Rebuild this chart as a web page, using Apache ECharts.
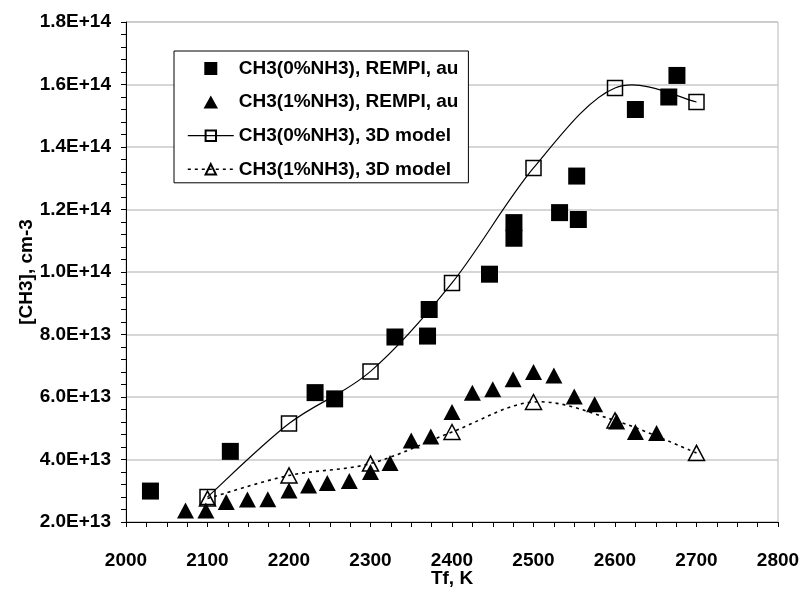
<!DOCTYPE html>
<html>
<head>
<meta charset="utf-8">
<script src="https://cdn.jsdelivr.net/npm/echarts@6/dist/echarts.min.js"></script>
<style>
  html, body { margin: 0; padding: 0; background: #fff; }
  #chart { width: 802px; height: 592px; }
</style>
</head>
<body>
<div id="chart"></div>
<script>
// Flame temperature Tf (K) and CH3 number density (cm-3)

// REMPI measurements, 0% NH3 (arbitrary units scaled to cm-3)
const rempi0T = [2030, 2128, 2232, 2256, 2330, 2370, 2372, 2446, 2476, 2476, 2532, 2553, 2555, 2625, 2666, 2676];
const rempi0V = [2.99e13, 4.26e13, 6.14e13, 5.94e13, 7.92e13, 7.95e13, 8.80e13, 9.93e13, 1.158e14, 1.108e14, 1.190e14, 1.307e14, 1.168e14, 1.520e14, 1.560e14, 1.629e14];

// REMPI measurements, 1% NH3
const rempi1T = [2073, 2098, 2123, 2149, 2174, 2200, 2224, 2247, 2274, 2300, 2324, 2350, 2374, 2400, 2425, 2450, 2475, 2500, 2525, 2550, 2575, 2602, 2625, 2651];
const rempi1V = [2.37e13, 2.37e13, 2.64e13, 2.72e13, 2.73e13, 3.01e13, 3.17e13, 3.25e13, 3.31e13, 3.60e13, 3.89e13, 4.61e13, 4.74e13, 5.52e13, 6.14e13, 6.25e13, 6.57e13, 6.80e13, 6.69e13, 6.02e13, 5.77e13, 5.22e13, 4.88e13, 4.85e13];

// 3D model results
const modelT = [2100, 2200, 2300, 2400, 2500, 2600, 2700];
const model0V = [2.80e13, 5.15e13, 6.82e13, 9.65e13, 1.333e14, 1.589e14, 1.544e14];
const model1V = [2.75e13, 3.49e13, 3.87e13, 4.88e13, 5.84e13, 5.25e13, 4.21e13];

// Axis ranges and labels
const xMin = 2000, xMax = 2800, xStep = 100;
const yMin = 2e13, yMax = 1.8e14, yStep = 2e13;
const xTitle = 'Tf, K';
const yTitle = '[CH3], cm-3';
const seriesNames = ['CH3(0%NH3), REMPI, au', 'CH3(1%NH3), REMPI, au', 'CH3(0%NH3), 3D model', 'CH3(1%NH3), 3D model'];

const zip = (xs, ys) => xs.map((x, i) => [x, ys[i]]);
const FONT = 'Liberation Sans, Arial, sans-serif';
const FS = 19;
const boldText = { fontFamily: FONT, fontSize: FS, fontWeight: 'bold', color: '#000' };

// Legend marker outlines (kept square, not stretched to the icon box)
const ICON_SQUARE = 'path://M0,0 L10,0 L10,10 L0,10 Z';
const ICON_TRIANGLE = 'path://M5,0 L10,9 L0,9 Z';

// Cardinal (Catmull-Rom style) Bezier path through pixel points
function smoothPath(pts) {
  let d = 'M' + pts[0][0] + ' ' + pts[0][1];
  for (let i = 0; i < pts.length - 1; i++) {
    const p0 = pts[Math.max(i - 1, 0)];
    const p1 = pts[i];
    const p2 = pts[i + 1];
    const p3 = pts[Math.min(i + 2, pts.length - 1)];
    const c1x = p1[0] + (p2[0] - p0[0]) / 6, c1y = p1[1] + (p2[1] - p0[1]) / 6;
    const c2x = p2[0] - (p3[0] - p1[0]) / 6, c2y = p2[1] - (p3[1] - p1[1]) / 6;
    d += ' C' + c1x + ' ' + c1y + ' ' + c2x + ' ' + c2y + ' ' + p2[0] + ' ' + p2[1];
  }
  return d;
}

// Custom series drawing the smoothed model curve through the axis scales
function curveSeries(xs, ys, style) {
  return {
    type: 'custom',
    coordinateSystem: 'cartesian2d',
    silent: true,
    z: 1,
    data: [[xs[0], ys[0]]],
    renderItem: function (params, api) {
      const pts = xs.map((x, i) => api.coord([x, ys[i]]));
      return {
        type: 'path',
        shape: { pathData: smoothPath(pts) },
        style: Object.assign({ fill: 'none', stroke: '#000' }, style)
      };
    }
  };
}

const chart = echarts.init(document.getElementById('chart'), null, { renderer: 'canvas' });

chart.setOption({
  animation: false,
  backgroundColor: '#fff',
  textStyle: { fontFamily: FONT },
  grid: {
    left: 126, top: 22, width: 652, height: 500,
    outerBoundsMode: 'none',
    containLabel: false,
    show: true, borderColor: '#b8b8b8', borderWidth: 1, backgroundColor: 'transparent'
  },
  legend: {
    orient: 'vertical',
    left: 174, top: 51,
    padding: [8, 10, 4, 13],
    backgroundColor: '#fff',
    borderColor: '#000', borderWidth: 1, borderRadius: 0,
    itemWidth: 46, itemHeight: 13, itemGap: 14.6,
    symbolKeepAspect: true,
    textStyle: boldText,
    data: [
      { name: seriesNames[0], icon: ICON_SQUARE },
      { name: seriesNames[1], icon: ICON_TRIANGLE },
      { name: seriesNames[2], lineStyle: { color: '#000', width: 1.2, type: 'solid', opacity: 1 } },
      { name: seriesNames[3], lineStyle: { color: '#000', width: 1.6, type: [3, 4], opacity: 1 } }
    ]
  },
  xAxis: {
    type: 'value',
    min: xMin, max: xMax, interval: xStep,
    name: xTitle, nameLocation: 'middle', nameGap: 47, nameMoveOverlap: false,
    nameTextStyle: boldText,
    axisLine: { lineStyle: { color: '#000', width: 1 } },
    axisTick: { show: true, length: 5, lineStyle: { color: '#000' } },
    minorTick: { show: true, splitNumber: 4, length: 5, lineStyle: { color: '#000' } },
    splitLine: { show: false },
    axisLabel: Object.assign({ margin: 29, formatter: v => String(v) }, boldText)
  },
  yAxis: {
    type: 'value',
    min: yMin, max: yMax, interval: yStep,
    name: yTitle, nameLocation: 'middle', nameGap: 90, nameRotate: 90, nameMoveOverlap: false,
    nameTextStyle: boldText,
    axisLine: { show: true, lineStyle: { color: '#000', width: 1 } },
    axisTick: { show: true, length: 5, lineStyle: { color: '#000' } },
    minorTick: { show: true, splitNumber: 5, length: 5, lineStyle: { color: '#000' } },
    splitLine: { show: true, lineStyle: { color: '#c8c8c8', width: 1.5 } },
    axisLabel: Object.assign({ margin: 15, formatter: v => v.toExponential(1).toUpperCase() }, boldText)
  },
  series: [
    {
      name: seriesNames[0], type: 'scatter',
      symbol: 'rect', symbolSize: 17,
      itemStyle: { color: '#000', opacity: 1 },
      data: zip(rempi0T, rempi0V), z: 2
    },
    {
      name: seriesNames[1], type: 'scatter',
      symbol: 'triangle', symbolSize: [17, 16],
      itemStyle: { color: '#000', opacity: 1 },
      data: zip(rempi1T, rempi1V), z: 2
    },
    {
      name: seriesNames[2], type: 'line',
      symbol: 'rect', symbolSize: 15, showSymbol: true,
      lineStyle: { color: '#000', width: 1.2, opacity: 0 },
      itemStyle: { color: 'rgba(0,0,0,0)', borderColor: '#000', borderWidth: 1.5 },
      data: zip(modelT, model0V), z: 3
    },
    {
      name: seriesNames[3], type: 'line',
      symbol: 'triangle', symbolSize: [16, 15], showSymbol: true,
      lineStyle: { color: '#000', width: 1.6, type: [3, 4], opacity: 0 },
      itemStyle: { color: 'rgba(0,0,0,0)', borderColor: '#000', borderWidth: 1.5 },
      data: zip(modelT, model1V), z: 4
    },
    curveSeries(modelT, model0V, { lineWidth: 1.2 }),
    curveSeries(modelT, model1V, { lineWidth: 1.6, lineDash: [3, 4] })
  ]
});
</script>
</body>
</html>
